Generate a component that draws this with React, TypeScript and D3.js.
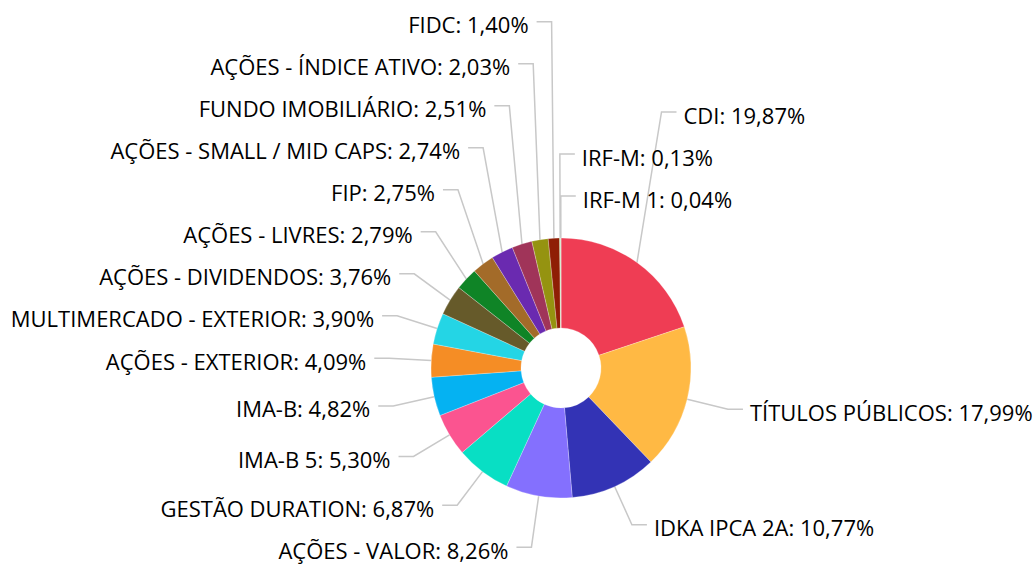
import React from "react";
import * as d3 from "d3";

const categories = [
  "CDI",
  "TÍTULOS PÚBLICOS",
  "IDKA IPCA 2A",
  "AÇÕES - VALOR",
  "GESTÃO DURATION",
  "IMA-B 5",
  "IMA-B",
  "AÇÕES - EXTERIOR",
  "MULTIMERCADO - EXTERIOR",
  "AÇÕES - DIVIDENDOS",
  "AÇÕES - LIVRES",
  "FIP",
  "AÇÕES - SMALL / MID CAPS",
  "FUNDO IMOBILIÁRIO",
  "AÇÕES - ÍNDICE ATIVO",
  "FIDC",
  "IRF-M",
  "IRF-M 1",
];
const values = [
  19.87, 17.99, 10.77, 8.26, 6.87, 5.3, 4.82, 4.09, 3.9, 3.76, 2.79, 2.75, 2.74,
  2.51, 2.03, 1.4, 0.13, 0.04,
];
const colors = [
  "#ef3d54", "#ffb944", "#3333b5", "#8470fe", "#08dfc4", "#fb5490",
  "#05b2f2", "#f58d25", "#24d5e5", "#665a2a", "#0f8426", "#a36b29",
  "#6a2ab0", "#a03459", "#959310", "#8f1e05", "#9be58a", "#c9c9c9",
];

const W = 1036;
const H = 565;
const cx = 561;
const cy = 368;
const outerR = 130;
const innerR = 40;
const labelR = 172;
const seg = 15;
const labelH = 42;
const fontSize = 22;

const fmt = (v: number) => d3.format(".2f")(v).replace(".", ",") + "%";

type Lbl = {
  i: number;
  a: number;
  right: boolean;
  ex: number;
  ey: number;
  bx: number;
  ny: number;
  y: number;
};

function layout() {
  const pie = d3
    .pie<number>()
    .sort(null)
    .value((d) => d)
    .startAngle(0)
    .endAngle(2 * Math.PI);
  const arcs = pie(values);
  const labels: Lbl[] = arcs.map((d, i) => {
    const a = (d.startAngle + d.endAngle) / 2;
    const bx = cx + labelR * Math.sin(a);
    const ny = cy - labelR * Math.cos(a);
    return {
      i,
      a,
      // slices that meet the 12 o'clock line (within ~0.5°) keep their label on the right
      right: Math.sin(a) > -0.01,
      ex: cx + outerR * Math.sin(a),
      ey: cy - outerR * Math.cos(a),
      bx,
      ny,
      y: ny,
    };
  });
  const minY = labelH / 2 - 2;
  const maxY = H - labelH / 2 + 8;
  const arrange = (list: Lbl[]) => {
    // list ordered top -> bottom
    const top = list.filter((l) => l.ny < cy);
    const bot = list.filter((l) => l.ny >= cy);
    // push upward in top half
    for (let k = top.length - 2; k >= 0; k--) {
      top[k].y = Math.min(top[k].ny, top[k + 1].y - labelH);
    }
    // clamp at top
    if (top.length && top[0].y < minY) {
      top[0].y = minY;
      for (let k = 1; k < top.length; k++)
        top[k].y = Math.max(top[k].y, top[k - 1].y + labelH);
    }
    // push downward in bottom half
    let prev = top.length ? top[top.length - 1].y : -Infinity;
    for (let k = 0; k < bot.length; k++) {
      bot[k].y = Math.max(bot[k].ny, prev + labelH);
      prev = bot[k].y;
    }
    if (bot.length && bot[bot.length - 1].y > maxY) {
      bot[bot.length - 1].y = maxY;
      for (let k = bot.length - 2; k >= 0; k--)
        bot[k].y = Math.min(bot[k].y, bot[k + 1].y - labelH);
    }
  };
  // right side: stacked in data order top->bottom; left side: data order bottom->top
  arrange(labels.filter((l) => l.right));
  arrange(labels.filter((l) => !l.right).reverse());
  return { arcs, labels };
}

export default function App() {
  const { arcs, labels } = React.useMemo(layout, []);
  const arc = d3
    .arc<d3.PieArcDatum<number>>()
    .innerRadius(innerR)
    .outerRadius(outerR);
  return (
    <div style={{ position: "fixed", left: 0, top: 0, width: W, height: H, background: "#fff" }}>
      <svg width={W} height={H} style={{ display: "block" }}>
        <g>
          {labels.map((l) => {
            const hx = l.right ? l.bx + seg : l.bx - seg;
            const pts: [number, number][] = [
              [l.ex, l.ey],
              [l.bx, l.y],
              [hx, l.y],
            ];
            return (
              <path
                key={"t" + l.i}
                d={d3.line()(pts) || ""}
                fill="none"
                stroke="#c8c8c8"
                strokeWidth={1.5}
              />
            );
          })}
        </g>
        <g transform={`translate(${cx},${cy})`}>
          {arcs.map((d, i) => (
            <path
              key={i}
              d={arc(d) || ""}
              fill={colors[i]}
              stroke="#ffffff"
              strokeWidth={0.5}
              strokeOpacity={0.5}
            />
          ))}
        </g>
        <g
          style={{ fontFamily: "'Open Sans', sans-serif", fontSize }}
          fill="#000"
        >
          {labels.map((l) => (
            <text
              key={"l" + l.i}
              x={l.right ? l.bx + seg + 7 : l.bx - seg - 8}
              y={l.y + 11.5}
              textAnchor={l.right ? "start" : "end"}
            >
              {categories[l.i] + ": " + fmt(values[l.i])}
            </text>
          ))}
        </g>
      </svg>
    </div>
  );
}
